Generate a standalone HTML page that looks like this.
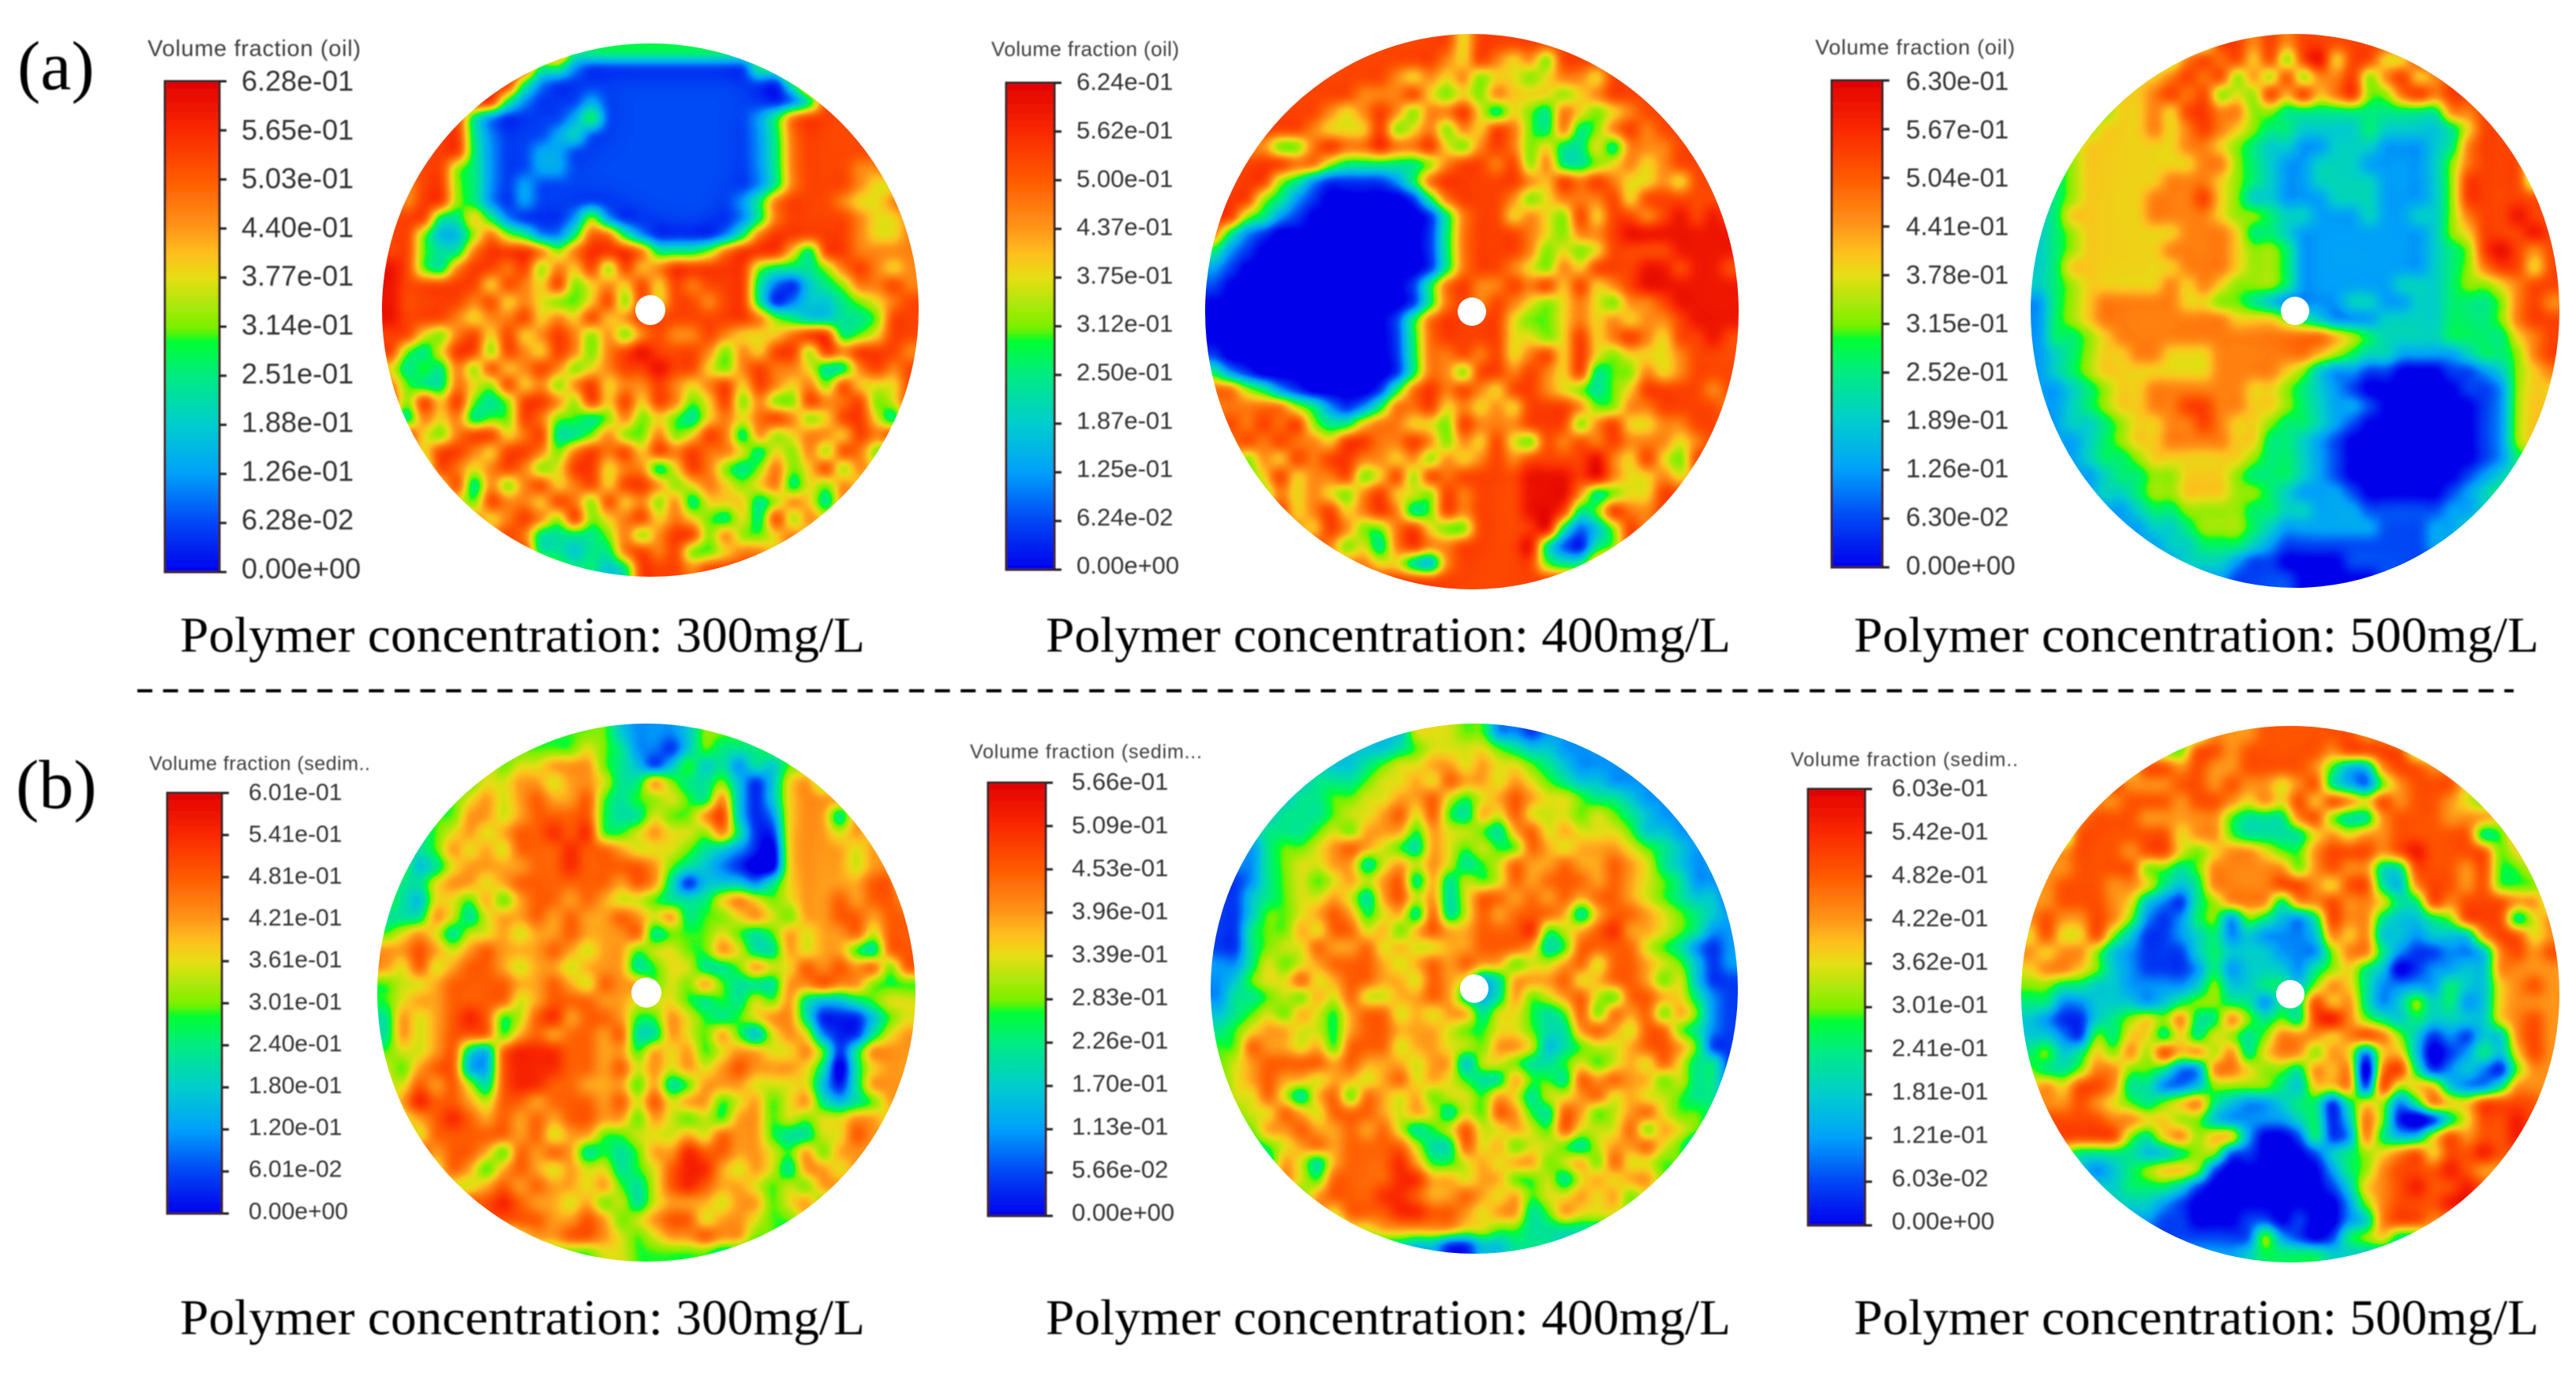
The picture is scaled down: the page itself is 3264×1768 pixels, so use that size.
<!DOCTYPE html>
<html lang="en">
<head>
<meta charset="utf-8">
<title>Volume fraction contours by polymer concentration</title>
<style>
html,body{margin:0;padding:0;background:#fff;}
svg{display:block;}
</style>
</head>
<body>
<svg id="figure" xmlns="http://www.w3.org/2000/svg" width="3264" height="1768" viewBox="0 0 3264 1768">
  <defs id="defs">
    <filter id="soft" x="-5%" y="-5%" width="110%" height="110%"><feGaussianBlur stdDeviation="0.8"/></filter>
    <filter id="softLine" filterUnits="userSpaceOnUse" x="0" y="850" width="3264" height="50"><feGaussianBlur stdDeviation="0.8"/></filter>
  </defs>
  <rect width="3264" height="1768" fill="#ffffff"/>
  <g id="panels"></g>
  <line x1="174" y1="875.5" x2="3185" y2="875.5" stroke="#000" stroke-width="4" stroke-dasharray="19 13.6" filter="url(#softLine)"/>
  <g filter="url(#soft)">
    <text x="22" y="113" font-family="'Liberation Serif',serif" font-size="88" fill="#000">(a)</text>
    <text x="20" y="1024" font-family="'Liberation Serif',serif" font-size="88" fill="#000">(b)</text>
    <text x="228" y="826" font-family="'Liberation Serif',serif" font-size="64" textLength="868" lengthAdjust="spacingAndGlyphs" fill="#000">Polymer concentration: 300mg/L</text>
    <text x="1325" y="826" font-family="'Liberation Serif',serif" font-size="64" textLength="868" lengthAdjust="spacingAndGlyphs" fill="#000">Polymer concentration: 400mg/L</text>
    <text x="2349" y="826" font-family="'Liberation Serif',serif" font-size="64" textLength="868" lengthAdjust="spacingAndGlyphs" fill="#000">Polymer concentration: 500mg/L</text>
    <text x="228" y="1691" font-family="'Liberation Serif',serif" font-size="64" textLength="868" lengthAdjust="spacingAndGlyphs" fill="#000">Polymer concentration: 300mg/L</text>
    <text x="1325" y="1691" font-family="'Liberation Serif',serif" font-size="64" textLength="868" lengthAdjust="spacingAndGlyphs" fill="#000">Polymer concentration: 400mg/L</text>
    <text x="2349" y="1691" font-family="'Liberation Serif',serif" font-size="64" textLength="868" lengthAdjust="spacingAndGlyphs" fill="#000">Polymer concentration: 500mg/L</text>
  </g>
</svg>
<script>
// Tick labels for each colour bar (top to bottom)
const ticksA1 = ["6.28e-01","5.65e-01","5.03e-01","4.40e-01","3.77e-01","3.14e-01","2.51e-01","1.88e-01","1.26e-01","6.28e-02","0.00e+00"];
const ticksA2 = ["6.24e-01","5.62e-01","5.00e-01","4.37e-01","3.75e-01","3.12e-01","2.50e-01","1.87e-01","1.25e-01","6.24e-02","0.00e+00"];
const ticksA3 = ["6.30e-01","5.67e-01","5.04e-01","4.41e-01","3.78e-01","3.15e-01","2.52e-01","1.89e-01","1.26e-01","6.30e-02","0.00e+00"];
const ticksB1 = ["6.01e-01","5.41e-01","4.81e-01","4.21e-01","3.61e-01","3.01e-01","2.40e-01","1.80e-01","1.20e-01","6.01e-02","0.00e+00"];
const ticksB2 = ["5.66e-01","5.09e-01","4.53e-01","3.96e-01","3.39e-01","2.83e-01","2.26e-01","1.70e-01","1.13e-01","5.66e-02","0.00e+00"];
const ticksB3 = ["6.03e-01","5.42e-01","4.82e-01","4.22e-01","3.62e-01","3.01e-01","2.41e-01","1.81e-01","1.21e-01","6.03e-02","0.00e+00"];

// Heatmap cells: each digit is a level 0..9 of the panel's value range
const fieldA1 = [
"88888888888444444444444888888888",
"88888888844211111111114488888888",
"88888888421111111111111148888888",
"88888884211121111111111124888888",
"88888421111241111111112478888888",
"88888421112311111111112478888888",
"88888421122111111111112478888888",
"88885421122111111111112478887788",
"87885421211111111111112478887668",
"87885421211111111111124788876678",
"88844642111252111111124788887667",
"88533575422477421111247888887667",
"88544788875788874445788864887777",
"98547887857685867888885444578767",
"98888868768567686878884213457787",
"98888786765568586887884123345678",
"98887677867686788888887543344588",
"88657868678757578778766678845688",
"85468858768757898887576885878887",
"64547586787567889886578776447878",
"75447658675786778767868767586668",
"85868545887586868756857558778568",
"64767455875545756546767875688648",
"78657886784457557568747567768787",
"77688768875787868787764657587558",
"87587678756886774687545756857658",
"88768475786786887567656746576788",
"88876587768758675746664576478788",
"88888767875856786765464857688888",
"88887878744445757885755676788888",
"88888887844344787855677688888888",
"44444888885443488878888844444444"];
const fieldA2 = [
"88888888888888868888888888888888",
"88888888888888768767588888888888",
"88888888888767675665677688888888",
"88888888877786565766656788888888",
"88888887678757786465476567888888",
"88888876668567576875474578788888",
"88775578778778657875644647778888",
"88888775444445788785744567678888",
"88885421111247888887687876676888",
"88854210000014788875677786888888",
"88542100000001478867658688789898",
"74210000000001478887657789999999",
"42100000000001478887565688889999",
"21000000000001478876576888998998",
"10000000000014787787868678999999",
"00000000000014787876567657789999",
"00000000000147888865567676778999",
"00000000000147888866568678768898",
"10000000000147787867868656667888",
"42100000000147758878768455767888",
"77542100001478787688765456888878",
"77777542124778676768887557788887",
"78787854467766587778885786677888",
"87878776887787576865878787776788",
"78576878877675767878888976865888",
"87568677856858788889998976676788",
"87757676578665878889997456688888",
"88768678678745878889984587787888",
"88886768755786558888942358788888",
"88887587564787788889421458888888",
"88888887776643788888544788888888",
"88888888888888888888888888888888"];
const fieldA3 = [
"55555555555887878888888888855555",
"55555555578786858968866888885555",
"55555566787857585778578678888855",
"55555667878565868678557878888885",
"55555667688775544444444447788888",
"44556667678765443333433334688888",
"44566666677654332233322234788898",
"44566666667754322333222235788858",
"34566666777654322333322235888858",
"34566667778653322233322235888888",
"34666667777655433222322335788988",
"34566666677764432222222235688898",
"34566666777765542222222234589878",
"34666666677765542222222234578868",
"34566666767655542222223334556788",
"24567777766554322223322334445787",
"24567777777766654322233334445788",
"24456777777777777765433334444678",
"23456677666777777654332222344578",
"23456666666777765322110001123567",
"22345667777776654321000000112566",
"22345667788776654322100000012566",
"12334566778766544321000000012566",
"12234566777766443210000000012566",
"12234456666665443210000000012456",
"11223445566654443210000000123456",
"11123345566655432221000001234576",
"01112234455554433222111112234566",
"11111223345554322222211122344556",
"11111122334443211111111122334444",
"11111112233321100001111112233444",
"11111111222211110000011111122344"];
const fieldB1 = [
"55555555555555322235555555555555",
"55555555555565422135444555555555",
"55555565667775431353424355555555",
"55555566776776447544531367555555",
"55555676787785455654731367776555",
"55555776788885446557831267747655",
"55456767889895567665741167767655",
"54457676888988766654321067776765",
"55346777788988887543210067776775",
"54467767888888787413332467777885",
"54366575788787665444676567787887",
"44476467787877876745567657788788",
"56764667677877784555654576778688",
"77876787778767756655764476775488",
"76867887677677745664457668787858",
"56678888778768775657544477877555",
"56778888678887766654546574334566",
"47678985689788755765456774111356",
"47678885787887844765753676211467",
"56678438999887757675677667514777",
"65788338999887867676787776404677",
"66878648998877757457776666314777",
"57988768878887868677567567434577",
"66789878787887757656577565667767",
"47688888786775566676877544668777",
"56878875878745457798877657577767",
"55768757876766456899767647767767",
"54576678787767546898776565776576",
"55557889877675646777677567567455",
"55555588887787567886776556755555",
"44445555677887656778775544455555",
"33333333555556655555444433333333"];
const fieldB2 = [
"33333333333366655221222222222222",
"33333333333456666543322222222222",
"33333333345667767665432222222222",
"33333344456676877676543322222222",
"33333445566778656787665443222222",
"33334445667868547686665654322222",
"33344456577757665478676665332222",
"33245567876547656558767776543222",
"22245667746767645687787787643221",
"11245656767847465687888787654221",
"11345667647867468878787887654331",
"11355678756748468788874788765432",
"11455768867578778889567897765422",
"11456687786766778887458888654212",
"22465678887678787756678688765312",
"23566867887768763477786788756311",
"24456576866778743475678658876421",
"34565765788676774665458587857521",
"45677665788777655665447876885421",
"55877675888677665776345667887511",
"56788887877767736654456567686441",
"56787767767867654475548787756441",
"46686478587675665764667867665441",
"45668768887676465875487567865543",
"34577877878645686676586668576543",
"22456787888864486756654677865332",
"33347647888975567677567586655433",
"33457658888997767755646767754333",
"33345578889987787675667675643333",
"33334476888998876774576665443333",
"33333444667777766554444443333333",
"33333333444433113344433333333333"];
const fieldB3 = [
"55555555555777888888775555555555",
"55555555558878888878888555555555",
"55555568878778888753378877555555",
"55556877788787767843257888675555",
"55567788878876768687687887657755",
"45678887777754447854478887776555",
"46488888867754444676778888845755",
"57788878865677655788878988885675",
"77788885545777775787744888785567",
"77888776434777788768843788785557",
"77888763214577747787764487888775",
"78778752124525432487743345888467",
"68668531123423222376733233378867",
"76775321113433322257742112237878",
"67765321112423332456430122337777",
"55443322223533443576422224336787",
"44223332345544244867423534236777",
"32113456574475454897543433336787",
"33215466464654577767875312133787",
"45346575867574677576266301243687",
"54457755422776554767078412321577",
"67688744223555543667185663224777",
"77787654567432234414652476688887",
"78888776655322223413751014688988",
"67888854675662001412743368788988",
"44544443345511000134567868898877",
"24432345665100000024578889877777",
"22333344431000000013678988987765",
"11223333210000000002578889987642",
"11112222110001101002378877656321",
"11111111111111521014564455543111",
"22222222222223444433333222222222"];

// Layout only (pixels on the page), not data
const layouts = [
 {id:'a-300',field:fieldA1,levelTop:9.6,ticks:ticksA1,title:'Volume fraction (oil)',cx:824,cy:393,rx:340,ry:338,hole:19,bar:[209,278,103,725],labelX:306,labelSize:36,labelY:[102,720],titleX:187,titleY:71,titleW:270,titleSize:29},
 {id:'a-400',field:fieldA2,levelTop:9.6,ticks:ticksA2,title:'Volume fraction (oil)',cx:1865,cy:395,rx:338,ry:352,hole:18,bar:[1275,1336,105,722],labelX:1364,labelSize:31,labelY:[103,716],titleX:1256,titleY:71,titleW:238,titleSize:26},
 {id:'a-500',field:fieldA3,levelTop:9.6,ticks:ticksA3,title:'Volume fraction (oil)',cx:2908,cy:394,rx:335,ry:351,hole:18,bar:[2321,2385,102,719],labelX:2415,labelSize:33,labelY:[102,716],titleX:2300,titleY:69,titleW:253,titleSize:27},
 {id:'b-300',field:fieldB1,levelTop:10.2,ticks:ticksB1,title:'Volume fraction (sedim..',cx:819,cy:1258,rx:341,ry:341,hole:19,bar:[212,281,1005,1538],labelX:315,labelSize:30,labelY:[1003,1534],titleX:189,titleY:976,titleW:280,titleSize:25},
 {id:'b-400',field:fieldB2,levelTop:10.3,ticks:ticksB2,title:'Volume fraction (sedim...',cx:1868,cy:1253,rx:334,ry:336,hole:18,bar:[1252,1325,992,1541],labelX:1358,labelSize:31,labelY:[990,1536],titleX:1229,titleY:961,titleW:294,titleSize:25},
 {id:'b-500',field:fieldB3,levelTop:9.9,ticks:ticksB3,title:'Volume fraction (sedim..',cx:2902,cy:1260,rx:341,ry:340,hole:18,bar:[2291,2363,1000,1553],labelX:2397,labelSize:31,labelY:[998,1547],titleX:2269,titleY:971,titleW:288,titleSize:25}
];

const SVGNS = 'http://www.w3.org/2000/svg';
function make(tag, attrs, parent){
  const el = document.createElementNS(SVGNS, tag);
  for (const k in attrs) el.setAttribute(k, attrs[k]);
  if (parent) parent.appendChild(el);
  return el;
}

// Colour map: normalised value -> rgb
const cmapStops = [[0,0,0,235],[0.1,0,70,245],[0.2,0,160,250],[0.3,0,205,205],[0.4,0,235,130],[0.47,0,255,50],[0.485,80,245,10],[0.5,125,240,0],[0.6,230,222,20],[0.65,255,190,30],[0.7,255,150,25],[0.8,255,90,0],[0.9,250,40,0],[1,225,0,0]];
function cmap(t){
  for (let i = 1; i < cmapStops.length; i++) {
    if (t <= cmapStops[i][0]) {
      const a = cmapStops[i-1], b = cmapStops[i], f = (t-a[0])/(b[0]-a[0]);
      return [a[1]+(b[1]-a[1])*f, a[2]+(b[2]-a[2])*f, a[3]+(b[3]-a[3])*f];
    }
  }
  return cmapStops[cmapStops.length-1].slice(1);
}

const defs = document.getElementById('defs');
const panelsRoot = document.getElementById('panels');

// Filter: smooth the cell greys, restore blob contrast, then colour-map them into contours
const contourFilter = make('filter', {id:'contour', filterUnits:'userSpaceOnUse', x:0, y:0, width:3264, height:1768, 'color-interpolation-filters':'sRGB'}, defs);
make('feGaussianBlur', {in:'SourceGraphic', stdDeviation:8.5, result:'near'}, contourFilter);
make('feGaussianBlur', {in:'SourceGraphic', stdDeviation:22, result:'far'}, contourFilter);
make('feComposite', {in:'near', in2:'far', operator:'arithmetic', k1:0, k2:1.6, k3:-0.6, k4:0, result:'sharp'}, contourFilter);
const transfer = make('feComponentTransfer', {in:'sharp'}, contourFilter);
const tableR = [], tableG = [], tableB = [];
for (let i = 0; i <= 128; i++) {
  const c = cmap(i/128);
  tableR.push((c[0]/255).toFixed(3));
  tableG.push((c[1]/255).toFixed(3));
  tableB.push((c[2]/255).toFixed(3));
}
make('feFuncR', {type:'table', tableValues:tableR.join(' ')}, transfer);
make('feFuncG', {type:'table', tableValues:tableG.join(' ')}, transfer);
make('feFuncB', {type:'table', tableValues:tableB.join(' ')}, transfer);

// Colour bar gradient
const grad = make('linearGradient', {id:'barGradient', x1:0, y1:1, x2:0, y2:0}, defs);
for (let i = 0; i <= 100; i++) {
  const c = cmap(i/100);
  make('stop', {offset:(i/100).toFixed(2), 'stop-color':'rgb('+Math.round(c[0])+','+Math.round(c[1])+','+Math.round(c[2])+')'}, grad);
}

layouts.forEach(function(p){
  const panel = make('g', {}, panelsRoot);
  
  

  // value axis for this panel: parsed from its top tick label
  const maxValue = parseFloat(p.ticks[0]);
  const levelToValue = function(d){ return d / p.levelTop * maxValue; };
  const valueToGrey = function(v){ return Math.round(255 * v / maxValue); };

  const clip = make('clipPath', {id:'clip-' + p.id}, defs);
  make('ellipse', {cx:p.cx, cy:p.cy, rx:p.rx, ry:p.ry}, clip);

  const clipGroup = make('g', {'clip-path':'url(#clip-' + p.id + ')'}, panel);
  
  
  const cells = make('g', {filter:'url(#contour)'}, clipGroup);

  const rows = p.field.length;
  const cols = p.field[0].length;
  const cw = 2 * p.rx / cols, ch = 2 * p.ry / rows;
  const xAxis = function(c){ return p.cx - p.rx + c * cw; };
  const yAxis = function(r){ return p.cy - p.ry + r * ch; };
  const pad = 70;
  for (let r = 0; r < rows; r++) {
    const row = p.field[r];
    for (let c = 0; c < cols; c++) {
      const d = parseInt(row[Math.min(c, row.length-1)], 10);
      const g = valueToGrey(levelToValue(d));
      let x = xAxis(c), y = yAxis(r), w = cw + 1, h = ch + 1;
      if (c === 0) { x -= pad; w += pad; }
      if (c === cols-1) { w += pad; }
      if (r === 0) { y -= pad; h += pad; }
      if (r === rows-1) { h += pad; }
      const cell = make('rect', {x:x.toFixed(2), y:y.toFixed(2), width:w.toFixed(2), height:h.toFixed(2), fill:'rgb('+g+','+g+','+g+')'}, cells);
      
      
    }
  }

  const hole = make('ellipse', {cx:p.cx, cy:p.cy, rx:p.hole, ry:p.hole, fill:'#ffffff'}, panel);
  
  

  // Legend
  const legend = make('g', {filter:'url(#soft)'}, panel);
  
  
  const b = p.bar;
  const barRect = make('rect', {x:b[0], y:b[2], width:b[1]-b[0], height:b[3]-b[2], fill:'url(#barGradient)', stroke:'#3a2020', 'stroke-width':3}, legend);
  
  

  const title = make('text', {x:p.titleX, y:p.titleY, 'font-family':"'Liberation Sans',sans-serif", 'font-size':p.titleSize, fill:'#3c3c3c', textLength:p.titleW, lengthAdjust:'spacing'}, legend);
  
  
  title.textContent = p.title;

  const n = p.ticks.length;
  const tickY = function(i){ return b[2] + (b[3]-b[2]) * i / (n-1); };
  const labelY = function(i){ return p.labelY[0] + (p.labelY[1]-p.labelY[0]) * i / (n-1); };
  p.ticks.forEach(function(label, i){
    const tick = make('line', {x1:b[1], x2:b[1]+9, y1:tickY(i), y2:tickY(i), stroke:'#222', 'stroke-width':3}, legend);
    
    
    const t = make('text', {x:p.labelX, y:labelY(i) + p.labelSize * 0.36, 'font-family':"'Liberation Sans',sans-serif", 'font-size':p.labelSize, fill:'#333333'}, legend);
    
    
    t.textContent = label;
  });
});
</script>
</body>
</html>
